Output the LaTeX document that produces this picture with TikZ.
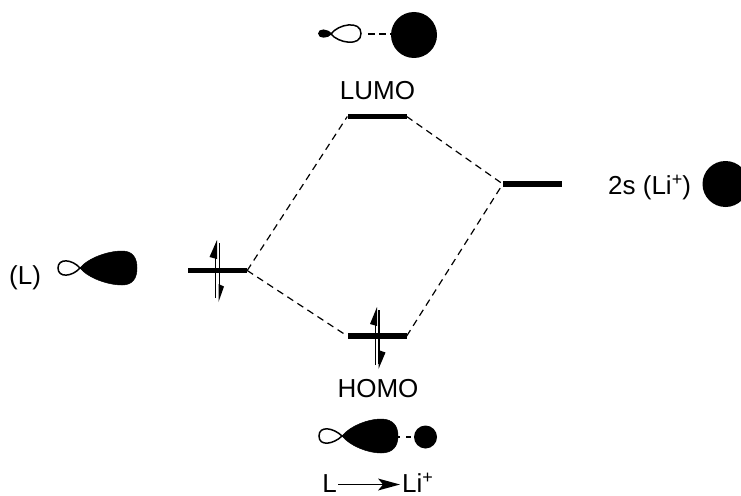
\documentclass[tikz,border=0pt]{standalone}
\usepackage{fontspec}
\setmainfont{Liberation Sans}
\newcommand{\supplus}{\raisebox{8.5pt}{\fontsize{18}{20}\selectfont +}}
\tikzset{
  level/.style={fill=black,inner sep=0pt,minimum width=59pt,minimum height=5.2pt},
  conn/.style={dashed,dash pattern=on 7pt off 5pt,line width=1.2pt},
  lab/.style={font=\fontsize{26}{30}\selectfont,inner sep=0pt},
  lobe/.style={draw=black,line width=1.5pt,fill=white},
  full/.style={fill=black,draw=black,line width=.5pt},
  spin/.style={line width=1.5pt},
  tip/.style={fill=black}
}
\begin{document}
\begin{tikzpicture}[x=1pt,y=-1pt]
\useasboundingbox (0,0) rectangle (741,495);
% levels
\node[level] (lv) at (217.5,270.5) {};
\node[level] (lumo) at (377,116.5) {};
\node[level] (homo) at (377,336) {};
\node[level] (li) at (532.5,184) {};
% connectors
\draw[conn] (lv.east) -- (lumo.west);
\draw[conn] (lv.east) -- (homo.west);
\draw[conn] (lumo.east) -- (li.west);
\draw[conn] (homo.east) -- (li.west);
% spin arrows L
\draw[spin] (215.5,298) -- (215.5,245);
\fill[tip] (217,240) -- (217,259) -- (209.5,257) -- cycle;
\draw[spin] (219.5,243) -- (219.5,297);
\fill[tip] (218.5,302) -- (218.5,284) -- (224,286.5) -- cycle;
% spin arrows HOMO
\draw[spin] (375.5,365) -- (375.5,312);
\fill[tip] (377,307) -- (377,326) -- (370,324) -- cycle;
\draw[spin] (379,310) -- (379,364);
\fill[tip] (378.5,369) -- (378.5,350) -- (385.5,352.5) -- cycle;
% labels
\node[lab] (lumot) at (377.5,91) {LUMO};
\node[lab] (homot) at (378,388.5) {HOMO};
\node[lab,anchor=base west] (lt) at (9,284) {(L)};
\node[lab,anchor=base west] (lit) at (608,194) {2s (Li\supplus)};
\node[lab,anchor=base east] (bl) at (337,492) {L};
\node[lab,anchor=base west] (bli) at (402,492) {Li\supplus};
\draw[line width=1.7pt] (338,484.5) -- (388,484.5);
\fill[tip] (400,484.5) -- (378,478.5) -- (383,484.5) -- (378,490.5) -- cycle;
% Li 2s
\fill[tip] (725.5,184) circle (23);
% L orbital
\draw[lobe] (80,268) .. controls (72,259) and (58,258) .. (58,268) .. controls (58,278) and (72,277) .. (80,268) -- cycle;
\draw[full] (80,268) .. controls (88,258) and (108,251) .. (122,251) .. controls (133,251) and (137,258) .. (137,268) .. controls (137,278) and (133,285) .. (122,285) .. controls (108,285) and (88,278) .. (80,268) -- cycle;
% LUMO orbital
\fill[tip] (332,34) .. controls (328,28) and (318,28) .. (318,33.5) .. controls (318,39) and (328,39) .. (332,34) -- cycle;
\draw[lobe] (331,34) .. controls (338,24) and (361,20) .. (361,33.5) .. controls (361,47) and (338,43) .. (331,34) -- cycle;
\draw[conn,dash pattern=on 7pt off 4pt] (368,34) -- (391,34);
\fill[tip] (414,35) circle (23);
% HOMO orbital
\draw[lobe] (342,436) .. controls (334,428) and (319,425) .. (319,436) .. controls (319,447) and (334,444) .. (342,436) -- cycle;
\draw[full] (342,436) .. controls (350,426) and (368,419) .. (381,419) .. controls (393,419) and (398,426) .. (398,436) .. controls (398,446) and (393,453) .. (381,453) .. controls (368,453) and (350,446) .. (342,436) -- cycle;
\draw[conn,dash pattern=on 5pt off 6pt,dash phase=3pt] (398,437) -- (415,437);
\fill[tip] (425.5,437) circle (11.5);
\end{tikzpicture}
\end{document}
